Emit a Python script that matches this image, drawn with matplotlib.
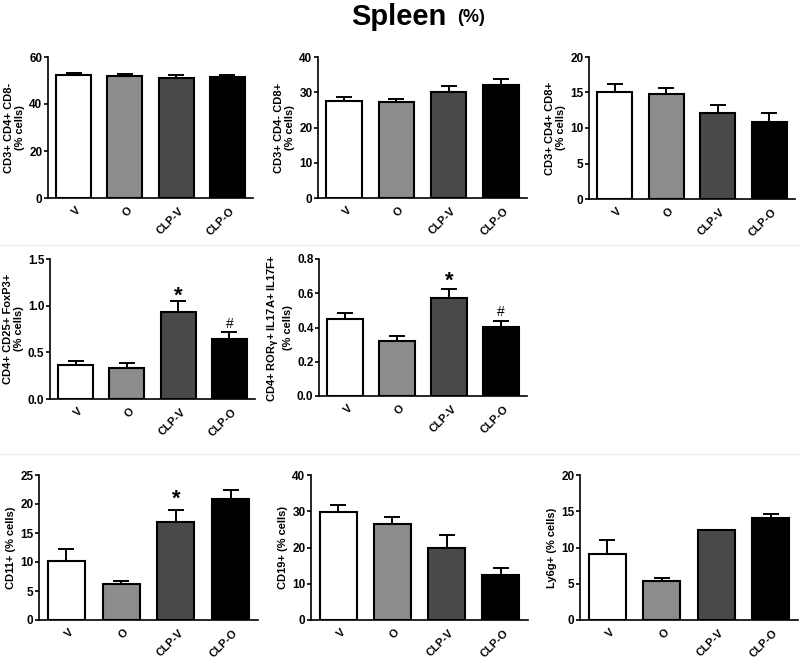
import matplotlib.pyplot as plt
from matplotlib.lines import Line2D

plt.rcParams['font.family'] = ['Liberation Sans', 'DejaVu Sans']
plt.rcParams['font.weight'] = 'bold'
plt.rcParams['mathtext.default'] = 'bf'

groups = ['V', 'O', 'CLP-V', 'CLP-O']
bar_colors = ['white', '#8c8c8c', '#494949', 'black']

cd4 = [52.5, 52.0, 51.1, 51.5]
cd4_err = [0.7, 0.8, 1.1, 1.0]
cd8 = [27.5, 27.2, 30.2, 32.1]
cd8_err = [1.1, 0.8, 1.6, 1.6]
dp = [15.1, 14.8, 12.1, 10.9]
dp_err = [1.1, 0.9, 1.2, 1.2]
treg = [0.36, 0.33, 0.93, 0.64]
treg_err = [0.045, 0.055, 0.12, 0.075]
th17 = [0.452, 0.323, 0.573, 0.405]
th17_err = [0.035, 0.027, 0.051, 0.033]
cd11 = [10.2, 6.15, 16.9, 20.8]
cd11_err = [2.0, 0.55, 2.0, 1.6]
cd19 = [29.7, 26.5, 19.8, 12.4]
cd19_err = [2.1, 1.9, 3.6, 2.0]
ly6g = [9.06, 5.33, 12.37, 14.07]
ly6g_err = [1.95, 0.5, 0.0, 0.5]

panels = [
    # values, errors, ylabel, ymax, ystep, marks, position (px: left, top, right, bottom)
    (cd4, cd4_err, 'CD3+ CD4+ CD8-\n(% cells)', 60, 20, {}, (48, 57, 253, 198)),
    (cd8, cd8_err, 'CD3+ CD4- CD8+\n(% cells)', 40, 10, {}, (318, 57, 527, 198)),
    (dp, dp_err, 'CD3+ CD4+ CD8+\n(% cells)', 20, 5, {}, (589, 57, 795, 199)),
    (treg, treg_err, 'CD4+ CD25+ FoxP3+\n(% cells)', 1.5, 0.5,
     {2: ('*', 1.1), 3: ('#', 0.8)}, (50, 259, 255, 399)),
    (th17, th17_err, 'CD4+ ROR$_\\gamma$+ IL17A+ IL17F+\n(% cells)', 0.8, 0.2,
     {2: ('*', 0.67), 3: ('#', 0.49)}, (319, 259, 527, 396)),
    (cd11, cd11_err, 'CD11+ (% cells)', 25, 5, {2: ('*', 20.8)}, (39, 475, 258, 620)),
    (cd19, cd19_err, 'CD19+ (% cells)', 40, 10, {}, (311, 475, 528, 620)),
    (ly6g, ly6g_err, 'Ly6g+ (% cells)', 20, 5, {}, (580, 475, 798, 620)),
]

W, H = 800, 660
fig = plt.figure(figsize=(W / 100, H / 100), dpi=100)

for vals, errs, ylabel, ymax, ystep, marks, (l, t, r, b) in panels:
    ax = fig.add_axes([l / W, (H - b) / H, (r - l) / W, (b - t) / H])
    x = list(range(len(groups)))
    ax.bar(x, vals, width=0.68, color=bar_colors, edgecolor='black', linewidth=1.5,
           yerr=[[0] * len(errs), errs], capsize=6,
           error_kw={'elinewidth': 1.4, 'capthick': 1.4, 'ecolor': 'black'}, zorder=2)
    ax.set_xlim(-0.5, 3.5)
    ax.set_ylim(0, ymax)
    n = int(round(ymax / ystep))
    ticks = [ystep * i for i in range(n + 1)]
    ax.set_yticks(ticks)
    if ystep < 1:
        ax.set_yticklabels(['%.1f' % v for v in ticks])
    ax.set_xticks(x)
    ax.set_xticklabels([])
    # rotated group names, anchored at their right end just below each bar
    for i, g in zip(x, groups):
        ax.annotate(g, xy=(i, 0), xycoords=('data', 'axes fraction'),
                    xytext=(4, -8), textcoords='offset points',
                    rotation=45, ha='right', va='center', rotation_mode='anchor',
                    fontsize=8, fontweight='bold')
    ax.tick_params(axis='x', length=0)
    ax.tick_params(axis='y', length=3, width=1.2, labelsize=8.5, pad=1)
    ax.set_ylabel(ylabel, fontsize=8, fontweight='bold', labelpad=3, linespacing=1.1)
    ax.spines['top'].set_visible(False)
    ax.spines['right'].set_visible(False)
    ax.spines['left'].set_linewidth(1.2)
    ax.spines['bottom'].set_linewidth(1.2)
    for i, (sym, ypos) in marks.items():
        if sym == '*':
            ax.text(i, ypos, sym, ha='center', va='center', fontsize=16, fontweight='bold')
        else:
            ax.text(i, ypos, sym, ha='center', va='center', fontsize=10, fontweight='normal')

# faint separators between rows
for yy in (245, 454):
    fig.add_artist(Line2D([0, 1], [1 - yy / H, 1 - yy / H], color='#eeeeee', linewidth=1))

fig.text(446 / W, 1 - 17 / H, 'Spleen', ha='right', va='center', fontsize=21,
         fontweight='heavy')
fig.text(457 / W, 1 - 17 / H, '(%)', ha='left', va='center', fontsize=13, fontweight='bold')

fig.savefig('out.png', dpi=100)
